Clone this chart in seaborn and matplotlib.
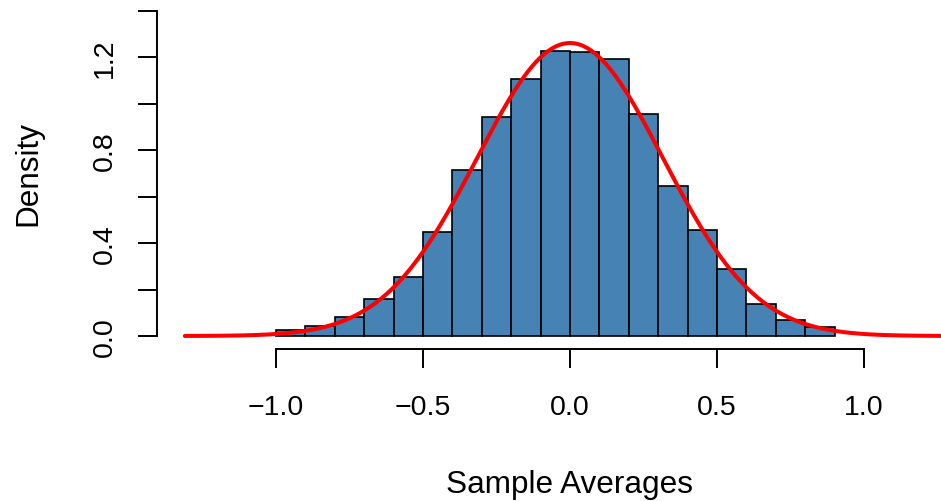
import numpy as np
import pandas as pd
import matplotlib
matplotlib.use('Agg')
import matplotlib.pyplot as plt
import seaborn as sns

# histogram bins (left edges, width 0.1) and densities
bin_left = [-1.0, -0.9, -0.8, -0.7, -0.6, -0.5, -0.4, -0.3, -0.2, -0.1,
            0.0, 0.1, 0.2, 0.3, 0.4, 0.5, 0.6, 0.7, 0.8]
density = [0.027, 0.042, 0.080, 0.159, 0.255, 0.448, 0.715, 0.942, 1.104, 1.227,
           1.220, 1.193, 0.956, 0.646, 0.456, 0.288, 0.138, 0.070, 0.037]
bin_width = 0.1

# overlaid normal curve
curve_mean = 0.0
curve_sd = 0.3166
curve_from = -1.31
curve_to = 1.31

x_ticks = [-1.0, -0.5, 0.0, 0.5, 1.0]
x_tick_labels = ['\u22121.0', '\u22120.5', '0.0', '0.5', '1.0']
y_ticks = [0.0, 0.2, 0.4, 0.6, 0.8, 1.0, 1.2, 1.4]
y_tick_labels = ['0.0', '', '0.4', '', '0.8', '', '1.2', '']

sns.set_style('white')
plt.rcParams['font.family'] = ['Liberation Sans', 'DejaVu Sans']
plt.rcParams['text.color'] = 'black'
plt.rcParams['axes.labelcolor'] = 'black'
plt.rcParams['xtick.color'] = 'black'
plt.rcParams['ytick.color'] = 'black'

W, H = 941, 502
fig = plt.figure(figsize=(W / 100, H / 100), dpi=100)
left_px, right_px, top_px, bottom_px = 157, 941, 0, 350
ax = fig.add_axes([left_px / W, 1 - bottom_px / H,
                   (right_px - left_px) / W, (bottom_px - top_px) / H])

df = pd.DataFrame({'mid': np.array(bin_left) + bin_width / 2, 'dens': density})
edges = list(bin_left) + [bin_left[-1] + bin_width]
sns.histplot(data=df, x='mid', weights='dens', bins=edges, stat='count',
             color='#4682B4', alpha=1.0, edgecolor='black', linewidth=1.2, ax=ax)

xs = np.linspace(curve_from, curve_to, 400)
ys = np.exp(-0.5 * ((xs - curve_mean) / curve_sd) ** 2) / (curve_sd * np.sqrt(2 * np.pi))
sns.lineplot(x=xs, y=ys, color='#FF0000', linewidth=2.9, ax=ax)

# y: 0 at 337px, 1.2 at 58px ; x: -1 at 276px, 1 at 864px
ppu = (337 - 58) / 1.2
ax.set_ylim(-(bottom_px - 337) / ppu, (337 - top_px) / ppu)
xppu = (864 - 276) / 2.0
ax.set_xlim((left_px - 570) / xppu, (right_px - 570) / xppu)

for s in ['top', 'right']:
    ax.spines[s].set_visible(False)
ax.spines['bottom'].set_bounds(-1.0, 1.0)
ax.spines['left'].set_bounds(0.0, 1.4)
for s in ['bottom', 'left']:
    ax.spines[s].set_linewidth(1.4)
    ax.spines[s].set_color('black')

ax.set_xticks(x_ticks)
ax.set_xticklabels(x_tick_labels)
ax.set_yticks(y_ticks)
ax.set_yticklabels(y_tick_labels, rotation=90, va='center')
ax.tick_params(axis='both', direction='out', length=13.5, width=1.4, color='black',
               labelsize=20.5, labelcolor='black', bottom=True, left=True)
ax.tick_params(axis='x', pad=19)
ax.tick_params(axis='y', pad=15)

ax.set_xlabel('Sample Averages', fontsize=22.7, color='black')
ax.set_ylabel('Density', fontsize=22.7, color='black')
ax.xaxis.set_label_coords((570 - left_px) / (right_px - left_px), (bottom_px - 485) / (bottom_px - top_px))
ax.xaxis.label.set_va('center')
ax.yaxis.set_label_coords((28 - left_px) / (right_px - left_px), (bottom_px - 173) / (bottom_px - top_px))
ax.yaxis.label.set_va('center')

fig.savefig('out.png', dpi=100)
